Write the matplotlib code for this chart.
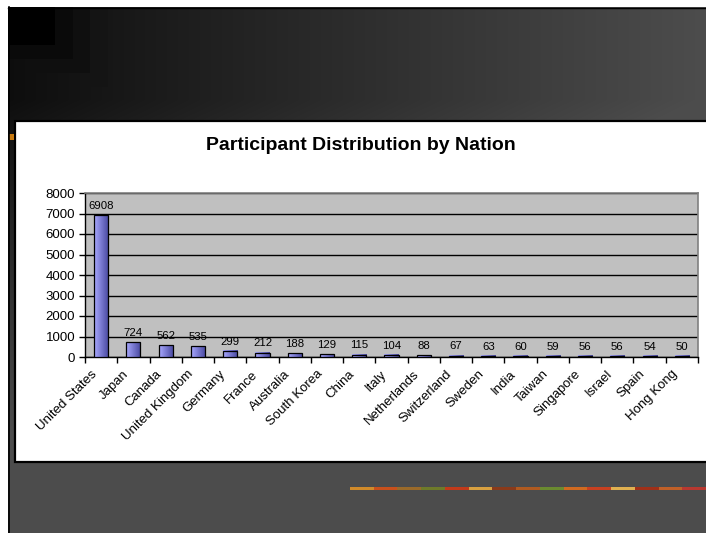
import numpy as np
import matplotlib
matplotlib.use('Agg')
import matplotlib.pyplot as plt
from matplotlib.patches import Rectangle
from matplotlib.transforms import ScaledTranslation

plt.rcParams['font.family'] = ['Liberation Sans', 'DejaVu Sans']

# chart data
nations = ['United States', 'Japan', 'Canada', 'United Kingdom', 'Germany',
           'France', 'Australia', 'South Korea', 'China', 'Italy',
           'Netherlands', 'Switzerland', 'Sweden', 'India', 'Taiwan',
           'Singapore', 'Israel', 'Spain', 'Hong Kong']
participants = [6908, 724, 562, 535, 299, 212, 188, 129, 115, 104,
                88, 67, 63, 60, 59, 56, 56, 54, 50]
y_ticks = [0, 1000, 2000, 3000, 4000, 5000, 6000, 7000, 8000]
title = 'Participant Distribution by Nation'

# decorative stripe colours at the bottom of the slide
stripe_colors = ['#d08a2a', '#c8501c', '#9a6a2a', '#6e7a2a', '#c23a1a',
                 '#d8a040', '#8a3a1a', '#b05a20', '#6a8a30', '#d06a20',
                 '#c84020', '#e0b050', '#a03018', '#c06028', '#b83830']

W, H = 706, 533


def main():
    fig = plt.figure(figsize=(W / 100, H / 100), dpi=100)

    # slide background (pixel coordinates)
    bg = fig.add_axes([0, 0, 1, 1])
    bg.set_xlim(0, W)
    bg.set_ylim(H, 0)
    bg.axis('off')
    xx, yy = np.meshgrid(np.arange(W) + 0.5, np.arange(H) + 0.5)
    v = 0.05 + 0.25 * np.minimum(1, xx / 700 + np.maximum(0, yy - 100) / 340)
    # darker stepped corner at the top left
    d = np.maximum((xx - 8) * 0.8, yy - 7)
    corner = np.where(d < 38, 0.0, 0.04 + np.floor((d - 38) / 14) * 0.02)
    v = np.minimum(v, corner)
    img = np.dstack([v, v, v])
    img[:7, :] = 1
    img[:, :8] = 1
    bg.imshow(img, extent=[0, W, H, 0], aspect='auto', interpolation='nearest')
    bg.plot([8.5, 8.5], [7, H], color='black', lw=1.2)
    bg.plot([8, W], [7.5, 7.5], color='black', lw=1)

    # white chart box
    bg.add_patch(Rectangle((15, 120.5), W, 341.5, facecolor='white',
                           edgecolor='black', lw=1.6))
    bg.add_patch(Rectangle((9, 134), 5, 6, facecolor='#c87a10', lw=0))
    n = len(stripe_colors)
    seg = (W - 350) / n
    for i, c in enumerate(stripe_colors):
        bg.add_patch(Rectangle((350 + i * seg, 486.5), seg + 0.5, 3,
                               facecolor=c, lw=0))

    bg.text(361, 145, title, ha='center', va='center', fontsize=14,
            fontweight='bold', color='black')

    # plot area
    ax = fig.add_axes([85 / W, 1 - 357 / H, (698 - 85) / W, (357 - 193) / H])
    ax.set_facecolor('#c0c0c0')
    x = np.arange(len(nations))
    bars = ax.bar(x, participants, width=0.44, facecolor='none',
                  edgecolor='black', lw=0.9, zorder=4)
    grad = np.linspace(0, 1, 40)
    left = np.array([0.66, 0.66, 1.0])
    right = np.array([0.28, 0.28, 0.62])
    gimg = (left[None, :] * (1 - grad[:, None]) + right[None, :] * grad[:, None])
    gimg = gimg[None, :, :]
    for b in bars:
        ax.imshow(gimg, extent=[b.get_x(), b.get_x() + b.get_width(), 0,
                                b.get_height()],
                  aspect='auto', zorder=3, interpolation='bilinear')
    for xi, val in zip(x, participants):
        ax.annotate(str(val), (xi, val), xytext=(0, 3),
                    textcoords='offset points', ha='center', va='bottom',
                    fontsize=8.2, zorder=5)

    ax.set_xlim(-0.5, len(nations) - 0.5)
    ax.set_ylim(0, 8000)
    ax.set_yticks(y_ticks)
    ax.tick_params(axis='y', labelsize=9.5, length=4, width=1, pad=3)
    ax.yaxis.grid(True, color='black', lw=1)
    ax.set_axisbelow(True)

    ax.set_xticks(x)
    ax.set_xticklabels(nations, rotation=45, ha='right', fontsize=9.5)
    ax.tick_params(axis='x', length=0, pad=8)
    ax.set_xticks(np.arange(len(nations) + 1) - 0.5, minor=True)
    ax.tick_params(axis='x', which='minor', length=4, width=1)
    for lab in ax.get_xticklabels():
        lab.set_transform(lab.get_transform() +
                          ScaledTranslation(-1.5 / 72, 0, fig.dpi_scale_trans))

    for s in ['left', 'bottom']:
        ax.spines[s].set_color('black')
        ax.spines[s].set_linewidth(1)
    for s in ['top', 'right']:
        ax.spines[s].set_color('#808080')
        ax.spines[s].set_linewidth(1.2)

    fig.savefig('out.png', dpi=100)


if __name__ == '__main__':
    main()
